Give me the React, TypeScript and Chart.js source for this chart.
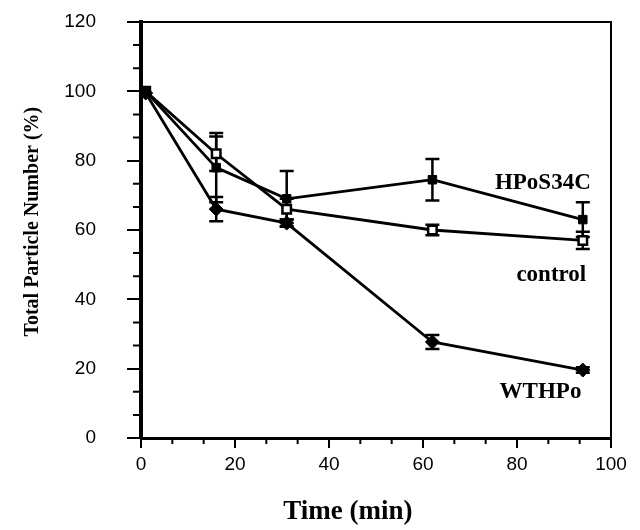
import React, { useEffect, useRef } from "react";
import { Chart, registerables } from "chart.js";

Chart.register(...registerables);

const times = [1, 16, 31, 62, 94];
const hposValues = [100, 78, 69, 74.5, 63];
const hposErrors = [0, 10, 8, 6, 5];
const controlValues = [100, 82, 66, 60, 57];
const controlErrors = [0, 5, 3, 1.5, 2.5];
const wthpoValues = [99.5, 66, 62, 27.7, 19.6];
const wthpoErrors = [0, 3.5, 1, 2, 0.8];

const seriesNames = ["HPoS34C", "control", "WTHPo"];
const labelPositions = [
  { x: 85.5, y: 73.5 },
  { x: 87.3, y: 47 },
  { x: 85, y: 13.3 },
];

const xTicks = [0, 20, 40, 60, 80, 100];
const yTicks = [0, 20, 40, 60, 80, 100, 120];
const xTitle = "Time (min)";
const yTitle = "Total Particle Number (%)";

const errorsByDataset = [hposErrors, controlErrors, wthpoErrors];

const errorBarPlugin = {
  id: "errorBars",
  beforeDatasetsDraw(chart: any) {
    const { ctx, scales } = chart;
    const xs = scales.x;
    const ys = scales.y;
    ctx.save();
    ctx.strokeStyle = "#000";
    ctx.lineWidth = 2.5;
    chart.data.datasets.forEach((ds: any, i: number) => {
      const errs = errorsByDataset[i];
      ds.data.forEach((p: any, j: number) => {
        const e = errs[j];
        if (!e) return;
        const px = xs.getPixelForValue(p.x);
        const top = ys.getPixelForValue(p.y + e);
        const bot = ys.getPixelForValue(p.y - e);
        ctx.beginPath();
        ctx.moveTo(px, top);
        ctx.lineTo(px, bot);
        ctx.moveTo(px - 7, top);
        ctx.lineTo(px + 7, top);
        ctx.moveTo(px - 7, bot);
        ctx.lineTo(px + 7, bot);
        ctx.stroke();
      });
    });
    ctx.restore();
  },
};

const framePlugin = {
  id: "frame",
  afterDraw(chart: any) {
    const { ctx, chartArea, scales } = chart;
    const { left, right, top, bottom } = chartArea;
    ctx.save();
    ctx.strokeStyle = "#000";
    ctx.lineWidth = 2;
    ctx.beginPath();
    ctx.moveTo(left, top);
    ctx.lineTo(right, top);
    ctx.lineTo(right, bottom);
    ctx.stroke();
    // minor ticks
    const step = 20 / 3;
    ctx.beginPath();
    for (let v = 0; v <= 100.01; v += step) {
      const r = Math.round(v * 3) % 60;
      if (r === 0) continue;
      const px = scales.x.getPixelForValue(v);
      ctx.moveTo(px, bottom);
      ctx.lineTo(px, bottom + 6);
    }
    for (let v = 0; v <= 120.01; v += step) {
      const r = Math.round(v * 3) % 60;
      if (r === 0) continue;
      const py = scales.y.getPixelForValue(v);
      ctx.moveTo(left, py);
      ctx.lineTo(left - 8, py);
    }
    ctx.stroke();
    // series labels
    ctx.fillStyle = "#000";
    ctx.font = "bold 23px 'Liberation Serif'";
    ctx.textAlign = "center";
    ctx.textBaseline = "middle";
    seriesNames.forEach((name, i) => {
      const pos = labelPositions[i];
      ctx.fillText(name, scales.x.getPixelForValue(pos.x), scales.y.getPixelForValue(pos.y));
    });
    // axis titles
    ctx.font = "bold 27px 'Liberation Serif'";
    ctx.fillText(xTitle, left + (right - left) * 0.44, 512);
    ctx.save();
    ctx.translate(33, top + (bottom - top) * 0.48);
    ctx.rotate(-Math.PI / 2);
    ctx.font = "bold 20px 'Liberation Serif'";
    ctx.fillText(yTitle, 0, 0);
    ctx.restore();
    ctx.restore();
  },
};

export default function App() {
  const canvasRef = useRef<HTMLCanvasElement | null>(null);

  useEffect(() => {
    if (!canvasRef.current) return;
    const mk = (vals: number[]) => times.map((t, i) => ({ x: t, y: vals[i] }));
    const chart = new Chart(canvasRef.current, {
      type: "line",
      data: {
        datasets: [
          {
            label: "HPoS34C",
            data: mk(hposValues),
            borderColor: "#000",
            borderWidth: 2.8,
            pointStyle: "rect",
            pointRadius: 6,
            pointBackgroundColor: "#000",
            pointBorderColor: "#000",
            pointBorderWidth: 1,
            tension: 0,
          },
          {
            label: "control",
            data: mk(controlValues),
            borderColor: "#000",
            borderWidth: 2.8,
            pointStyle: "rect",
            pointRadius: 6,
            pointBackgroundColor: "#fff",
            pointBorderColor: "#000",
            pointBorderWidth: 2.5,
            tension: 0,
          },
          {
            label: "WTHPo",
            data: mk(wthpoValues),
            borderColor: "#000",
            borderWidth: 2.8,
            pointStyle: "rectRot",
            pointRadius: 7,
            pointBackgroundColor: "#000",
            pointBorderColor: "#000",
            pointBorderWidth: 1,
            tension: 0,
          },
        ],
      },
      options: {
        responsive: false,
        animation: false,
        devicePixelRatio: 1,
        layout: { padding: { top: 22, right: 29, left: 0, bottom: 0 } },
        plugins: {
          legend: { display: false },
          tooltip: { enabled: false },
        },
        scales: {
          x: {
            type: "linear",
            min: 0,
            max: 100,
            afterBuildTicks: (scale: any) => {
              scale.ticks = xTicks.map((v) => ({ value: v }));
            },
            afterFit: (scale: any) => {
              scale.height = 92;
              scale.paddingLeft = 0;
              scale.paddingRight = 0;
            },
            ticks: {
              color: "#000",
              font: { family: "'Liberation Sans'", size: 19 },
              padding: 5,
              maxRotation: 0,
            },
            grid: {
              drawOnChartArea: false,
              drawTicks: true,
              tickLength: 10,
              color: "#000",
              lineWidth: 2,
            },
            border: { display: true, color: "#000", width: 3 },
            title: { display: false },
          },
          y: {
            type: "linear",
            min: 0,
            max: 120,
            afterBuildTicks: (scale: any) => {
              scale.ticks = yTicks.map((v) => ({ value: v }));
            },
            afterFit: (scale: any) => {
              scale.width = 141;
              scale.paddingTop = 0;
              scale.paddingBottom = 0;
            },
            ticks: {
              color: "#000",
              font: { family: "'Liberation Sans'", size: 19 },
              padding: 31,
            },
            grid: {
              drawOnChartArea: false,
              drawTicks: true,
              tickLength: 14,
              color: "#000",
              lineWidth: 2,
            },
            border: { display: true, color: "#000", width: 4 },
            title: { display: false },
          },
        },
      },
      plugins: [errorBarPlugin, framePlugin],
    });
    return () => chart.destroy();
  }, []);

  return (
    <div style={{ position: "fixed", left: 0, top: 0, width: 640, height: 530, background: "#fff" }}>
      <canvas ref={canvasRef} width={640} height={530} style={{ width: 640, height: 530, display: "block" }} />
    </div>
  );
}
